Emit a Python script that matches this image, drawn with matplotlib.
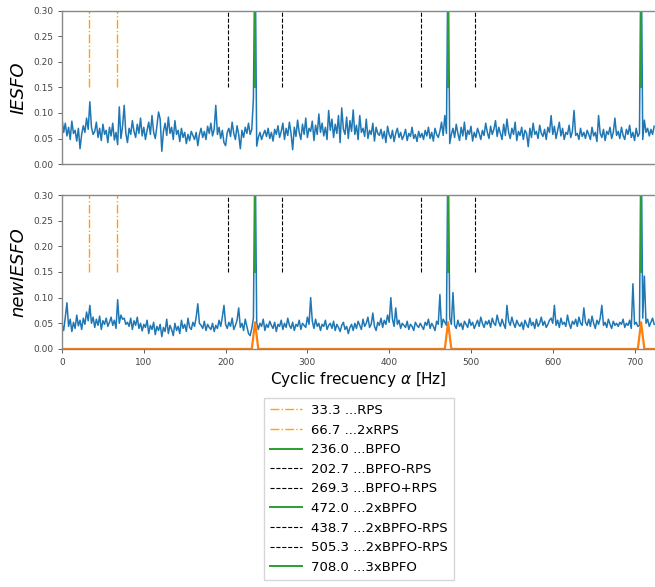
import numpy as np
import matplotlib
matplotlib.use("Agg")
import matplotlib.pyplot as plt

# ── Cyclic frequency axis (2 Hz bins) ─────────────────────────────────────
alpha = np.arange(0, 726, 2)

# IESFO amplitude, in thousandths
iesfo_milli = [
    88, 62, 80, 55, 72, 48, 84, 60, 66, 45, 70, 30, 58, 75, 62, 90, 68, 122, 72, 58,
    64, 82, 52, 70, 46, 78, 58, 66, 42, 72, 55, 80, 47, 62, 38, 112, 50, 74, 115, 60,
    42, 70, 58, 85, 64, 52, 78, 60, 90, 55, 72, 48, 66, 82, 58, 95, 62, 50, 74, 102,
    88, 25, 64, 80, 56, 92, 60, 72, 48, 85, 58, 66, 44, 70, 52, 62, 40, 58, 46, 64,
    56, 48, 62, 36, 58, 70, 52, 64, 48, 74, 60, 80, 55, 68, 115, 58, 72, 50, 66, 42,
    36, 62, 70, 54, 82, 60, 48, 75, 58, 30, 66, 52, 72, 60, 80, 58, 68, 128, 450, 35,
    52, 62, 48, 58, 66, 54, 70, 50, 62, 45, 68, 58, 75, 52, 64, 80, 48, 70, 56, 82,
    60, 28, 72, 54, 86, 62, 48, 78, 58, 90, 52, 70, 64, 84, 46, 76, 58, 98, 62, 80,
    55, 72, 48, 105, 66, 88, 52, 78, 60, 95, 42, 110, 68, 58, 92, 50, 85, 64, 106, 58,
    76, 48, 95, 62, 70, 54, 88, 50, 66, 58, 80, 45, 72, 60, 56, 68, 50, 64, 42, 74,
    58, 50, 66, 44, 60, 70, 52, 62, 48, 56, 68, 46, 60, 54, 72, 50, 58, 44, 64, 52,
    60, 48, 66, 55, 72, 50, 62, 45, 70, 58, 52, 64, 82, 56, 95, 60, 440, 40, 58, 70,
    52, 78, 60, 46, 72, 55, 82, 48, 66, 58, 74, 45, 62, 52, 70, 60, 48, 66, 56, 80,
    62, 50, 74, 58, 68, 85, 54, 72, 60, 48, 78, 56, 88, 62, 50, 70, 58, 82, 46, 64,
    56, 72, 48, 66, 60, 34, 70, 52, 80, 58, 64, 50, 76, 60, 54, 68, 48, 72, 62, 95,
    58, 74, 50, 66, 82, 55, 70, 48, 62, 58, 76, 52, 64, 105, 56, 60, 48, 70, 54, 62,
    50, 66, 58, 48, 72, 55, 62, 44, 95, 60, 52, 68, 46, 64, 58, 72, 50, 62, 90, 56,
    64, 50, 72, 56, 48, 68, 58, 76, 52, 62, 46, 70, 54, 60, 460, 48, 86, 62, 70, 55,
    68, 58, 74,
]

# newIESFO amplitude, in thousandths
new_iesfo_milli = [
    48, 36, 62, 90, 44, 58, 34, 52, 40, 66, 45, 56, 38, 60, 48, 72, 55, 85, 50, 62,
    42, 58, 46, 64, 38, 55, 48, 60, 44, 52, 62, 46, 56, 40, 96, 50, 66, 58, 60, 48,
    52, 44, 60, 38, 55, 46, 62, 40, 50, 35, 48, 42, 56, 30, 46, 38, 52, 28, 44, 36,
    48, 24, 42, 34, 58, 30, 46, 38, 26, 50, 36, 44, 30, 56, 40, 48, 34, 60, 42, 38,
    52, 44, 62, 88, 50, 46, 40, 54, 36, 48, 42, 38, 50, 34, 46, 40, 56, 44, 62, 85,
    48, 40, 52, 44, 60, 38, 46, 56, 80, 42, 50, 36, 58, 44, 30, 26, 40, 60, 420, 52,
    38, 50, 44, 58, 36, 48, 42, 54, 46, 40, 52, 34, 48, 44, 56, 38, 50, 42, 60, 46,
    40, 52, 36, 48, 44, 56, 38, 50, 46, 42, 62, 48, 100, 54, 40, 58, 44, 50, 36, 48,
    44, 56, 38, 46, 50, 40, 54, 36, 48, 42, 34, 46, 52, 38, 44, 30, 42, 48, 36, 50,
    40, 54, 46, 38, 58, 44, 50, 62, 42, 48, 70, 44, 36, 52, 46, 60, 42, 56, 48, 66,
    52, 100, 58, 44, 80, 48, 56, 40, 50, 46, 42, 54, 38, 48, 44, 36, 52, 46, 42, 50,
    44, 38, 52, 46, 58, 40, 50, 44, 36, 54, 48, 106, 42, 58, 52, 46, 430, 60, 48, 110,
    46, 40, 56, 44, 50, 38, 54, 48, 42, 58, 46, 52, 40, 48, 56, 44, 62, 50, 42, 54,
    48, 56, 42, 60, 50, 46, 66, 52, 44, 58, 48, 40, 85, 54, 46, 62, 50, 42, 56, 48,
    44, 52, 38, 56, 48, 42, 60, 46, 52, 40, 58, 44, 50, 62, 46, 54, 42, 48, 56, 60,
    50, 85, 46, 56, 42, 60, 48, 52, 44, 66, 50, 40, 54, 48, 58, 44, 62, 50, 46, 80,
    52, 46, 58, 44, 64, 50, 40, 56, 48, 60, 85, 46, 52, 42, 58, 48, 40, 54, 46, 50,
    44, 52, 48, 58, 42, 50, 46, 56, 40, 127, 48, 52, 44, 46, 440, 60, 142, 50, 58, 44,
    52, 60, 48,
]

# fault indicator (orange trace in the lower panel)
indicator_x = [0, 232, 236, 240, 468, 472, 476, 704, 708, 712, 725]
indicator_y = [0, 0, 0.052, 0, 0, 0.052, 0, 0, 0.052, 0, 0]

# characteristic frequencies
marker_freqs = [33.3, 66.7, 236.0, 202.7, 269.3, 472.0, 438.7, 505.3, 708.0]
marker_names = ["RPS", "2xRPS", "BPFO", "BPFO-RPS", "BPFO+RPS", "2xBPFO",
                "2xBPFO-RPS", "2xBPFO-RPS", "3xBPFO"]
marker_kind = ["rps", "rps", "bpfo", "side", "side", "bpfo", "side", "side", "bpfo"]

styles = {
    "rps":  dict(color="orange", linestyle="-.", linewidth=1.0),
    "bpfo": dict(color="C2", linestyle="-", linewidth=1.4),
    "side": dict(color="k", linestyle="--", linewidth=0.8),
}

iesfo = np.array(iesfo_milli) / 1000
new_iesfo = np.array(new_iesfo_milli) / 1000

fig = plt.figure(figsize=(6.55, 5.87), dpi=100)
ax1 = fig.add_axes([0.0947, 0.7206, 0.9053, 0.2607])
ax2 = fig.add_axes([0.0947, 0.4055, 0.9053, 0.2623])

ax1.plot(alpha, iesfo, color="C0", linewidth=1.1)
ax2.plot(alpha, new_iesfo, color="C0", linewidth=1.1)
ax2.plot(indicator_x, indicator_y, color="C1", linewidth=1.6)

for ax in (ax1, ax2):
    for f, name, kind in zip(marker_freqs, marker_names, marker_kind):
        ax.axvline(f, ymin=0.5, ymax=1.0, label=f"{f:.1f} ...{name}", **styles[kind])
    ax.set_xlim(0, 725)
    ax.set_ylim(0, 0.30)
    ax.set_yticks([0, 0.05, 0.10, 0.15, 0.20, 0.25, 0.30])
    ax.tick_params(labelsize=6.5, colors="#444444", length=3, width=0.6)
    ax.spines["right"].set_visible(False)
    for s in ("left", "top", "bottom"):
        ax.spines[s].set_color("#888888")
        ax.spines[s].set_linewidth(1.0)

ax1.tick_params(bottom=False, labelbottom=False)
ax1.set_ylabel("IESFO", fontsize=13, fontstyle="italic")
ax2.set_ylabel("newIESFO", fontsize=13, fontstyle="italic")
ax2.set_xlabel("Cyclic frecuency $\\alpha$ [Hz]", fontsize=11, labelpad=2)
ax2.set_xticks([0, 100, 200, 300, 400, 500, 600, 700])

handles, labels = ax2.get_legend_handles_labels()
fig.legend(handles, labels, loc="upper center", bbox_to_anchor=(0.548, 0.333),
           fontsize=9.5, frameon=True, fancybox=False, edgecolor="#cccccc",
           handlelength=2.4, handletextpad=0.7, labelspacing=0.5, borderpad=0.45)

fig.savefig("out.png", dpi=100)
